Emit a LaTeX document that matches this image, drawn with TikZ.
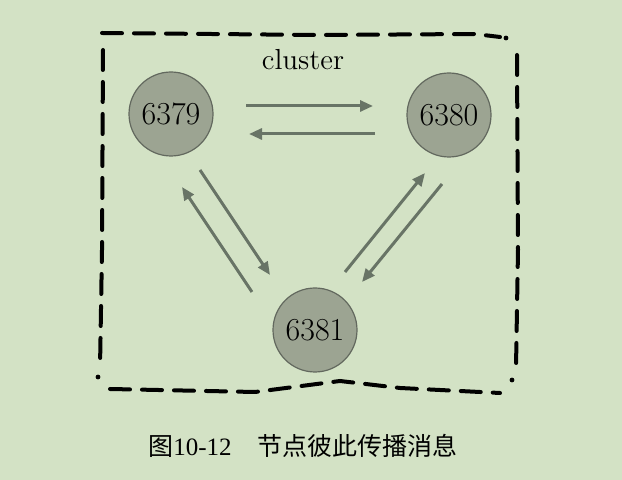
\documentclass[tikz,border=0pt]{standalone}
\usepackage{fontspec}
\usepackage{xcolor}
\usepackage{tikz}
\usetikzlibrary{arrows.meta}
\newfontfamily\cjk{Noto Sans CJK SC}
\newfontfamily\capfont{Liberation Serif}
\definecolor{paper}{RGB}{211,226,197}
\definecolor{nodegray}{RGB}{156,164,146}
\definecolor{rimgray}{RGB}{98,104,94}
\definecolor{msggray}{RGB}{104,116,102}

\begin{document}
\begin{tikzpicture}[x=0.5pt, y=-0.5pt,
    port/.style={draw=rimgray, line width=0.6pt, circle, fill=nodegray,
      minimum size=42pt, inner sep=0pt, font=\fontsize{16}{16}\selectfont},
    msg/.style={draw=msggray, line width=1.5pt,
      -{Triangle[length=6.5pt, width=5.5pt]}},
    border/.style={line width=2pt, dash pattern=on 10pt off 6pt, line cap=round}]
        \useasboundingbox[fill=paper] (0,0) rectangle (622,480);

        % Cluster border
        \draw[border] (102,33) -- (320,35) -- (475,34) -- (500,37);
        \draw[border] (103,50) -- (102,250) -- (100,368);
        \draw[border] (517,55) -- (518,250) -- (516,368);
        \draw[border] (110,389) -- (255,392) -- (340,381) -- (400,388) -- (500,393);
        \fill (98,377) circle (1.2pt);
        \fill (512,380) circle (1.2pt);
        \fill (506,38) circle (1.2pt);
        \node[font=\fontsize{14.5}{14.5}\selectfont] (title) at (303,60) {cluster};

        % Nodes
        \node[port] (n6379) at (171,114) {6379};
        \node[port] (n6380) at (449,115) {6380};
        \node[port] (n6381) at (315,330) {6381};

        % Messages
        \draw[msg] ([shift={(75,-8)}]n6379.center) -- ([shift={(-76,-9)}]n6380.center);
        \draw[msg] ([shift={(-74,19)}]n6380.center) -- ([shift={(78,20)}]n6379.center);
        \draw[msg] ([shift={(29,56)}]n6379.center) -- ([shift={(-45,-55)}]n6381.center);
        \draw[msg] ([shift={(-63,-38)}]n6381.center) -- ([shift={(11,73)}]n6379.center);
        \draw[msg] ([shift={(30,-58)}]n6381.center) -- ([shift={(-24,58)}]n6380.center);
        \draw[msg] ([shift={(-7,69)}]n6380.center) -- ([shift={(47,-48)}]n6381.center);

        % Caption
        \node[font=\fontsize{12.5}{12.5}\selectfont] (caption) at (303,446)
          {{\cjk 图}{\capfont 10-12}\hspace{13pt}{\cjk 节点彼此传播消息}};
      \end{tikzpicture}
\end{document}
